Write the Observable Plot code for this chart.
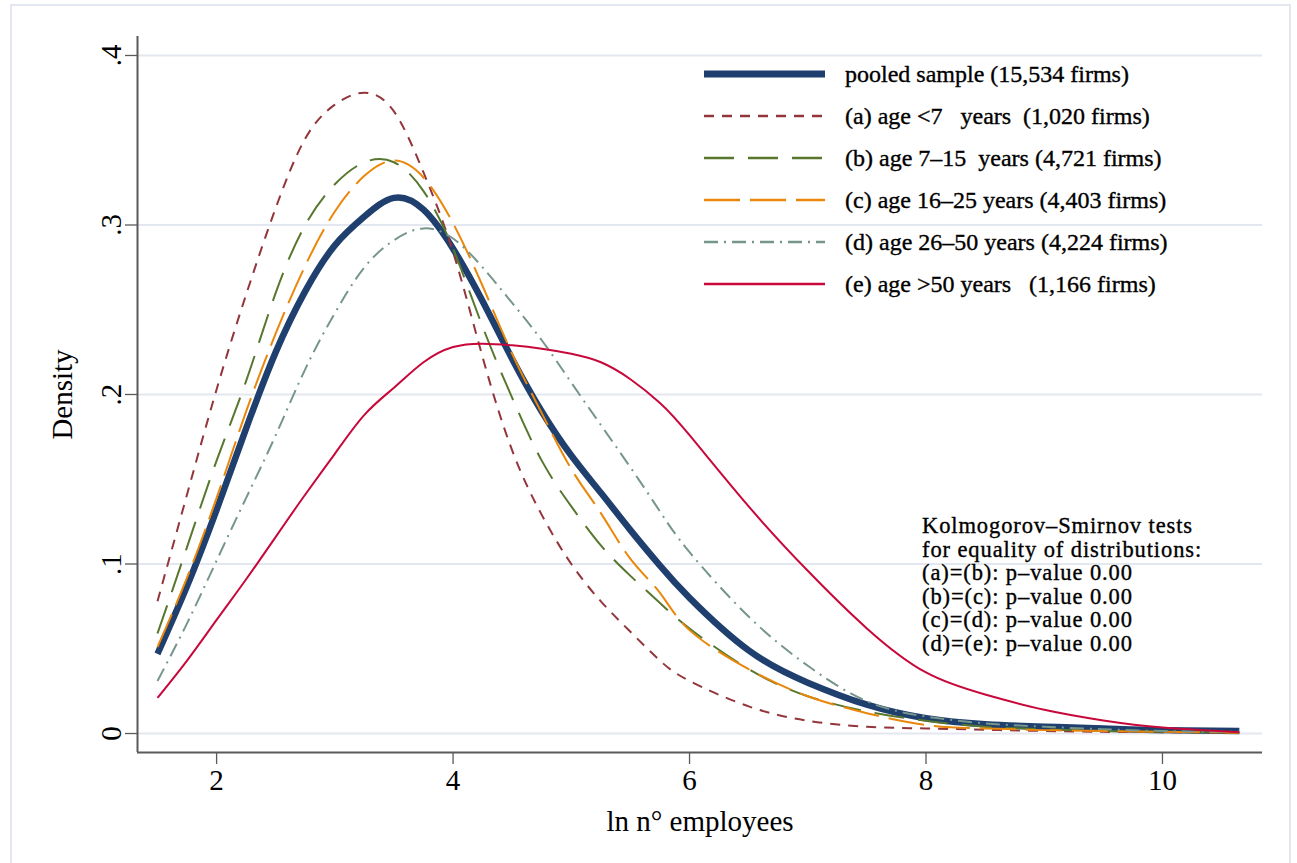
<!DOCTYPE html>
<html><head><meta charset="utf-8">
<script src="https://cdn.jsdelivr.net/npm/d3@7"></script>
<script src="https://cdn.jsdelivr.net/npm/@observablehq/plot@0.6"></script>
<style>
html,body{margin:0;padding:0;background:#fff;}
#wrap{position:relative;width:1297px;height:863px;overflow:hidden;background:#fff;}
#border{position:absolute;left:10px;top:4px;width:1281px;height:900px;border:2px solid #e3e7f0;box-sizing:border-box;}
#wrap svg{position:absolute;left:0;top:0;}
</style></head><body><div id="wrap"><div id="border"></div></div>
<script>
// ---- data ----
const xGrid  = [1.5,1.75,2,2.25,2.5,2.75,3,3.25,3.5,3.75,4,4.25,4.5,4.75,5,5.25,5.5,5.75,6,6.5,7,7.5,8,8.5,9,9.5,10,10.65];
const pooled = [.047,.087,.132,.180,.225,.261,.288,.305,.316,.309,.286,.255,.221,.190,.164,.142,.120,.099,.080,.049,.030,.017,.009,.0055,.004,.003,.002,.0015];
const ageA   = [.078,.141,.203,.259,.310,.351,.371,.378,.367,.331,.284,.222,.167,.129,.100,.078,.060,.043,.031,.016,.0075,.004,.003,.0022,.0015,.001,.0008,.0005];
const ageB   = [.059,.110,.161,.208,.260,.300,.324,.337,.337,.320,.286,.240,.198,.161,.134,.111,.093,.077,.062,.038,.022,.013,.0075,.004,.0025,.0015,.001,.0005];
const ageC   = [.051,.092,.139,.190,.236,.276,.308,.329,.338,.328,.301,.264,.224,.189,.156,.130,.103,.083,.061,.038,.022,.012,.005,.003,.002,.0015,.001,.0005];
const ageD   = [.031,.065,.102,.139,.176,.215,.248,.275,.291,.298,.292,.275,.254,.232,.207,.182,.157,.131,.107,.069,.040,.019,.010,.006,.004,.0025,.0015,.001];
const ageE   = [.021,.043,.067,.091,.116,.141,.165,.188,.204,.219,.228,.230,.229,.227,.224,.219,.209,.195,.176,.134,.096,.062,.036,.023,.014,.0077,.0035,.0008];

const seriesValues = [pooled, ageA, ageB, ageC, ageD, ageE];
const seriesNames = [
  "pooled sample (15,534 firms)",
  "(a) age <7   years  (1,020 firms)",
  "(b) age 7–15  years (4,721 firms)",
  "(c) age 16–25 years (4,403 firms)",
  "(d) age 26–50 years (4,224 firms)",
  "(e) age >50 years   (1,166 firms)"
];
const seriesColors = ["#1f3f6e", "#93363c", "#58772e", "#ea870a", "#76968b", "#c8083a"];
const seriesWidths = [6.5, 2, 2, 2, 2, 2];
const seriesDash   = [null, "10,8", "30,14", "36,10", "14,6,2,6", null];

const yTicks = [0, 0.1, 0.2, 0.3, 0.4];
const xTicks = [2, 4, 6, 8, 10];
const ksLines = [
  "Kolmogorov–Smirnov tests",
  "for equality of distributions:",
  "(a)=(b): p–value 0.00",
  "(b)=(c): p–value 0.00",
  "(c)=(d): p–value 0.00",
  "(d)=(e): p–value 0.00"
];

const xDomain = [1.331, 10.846];
const yDomain = [-0.0112, 0.4112];

// ---- build ----
const rows = seriesValues.map((vals) => vals.map((v, i) => ({x: xGrid[i], y: v})));
const fmtY = d => d === 0 ? "0" : d3.format(".1f")(d).replace(/^0/, "");
const font = "'Liberation Serif', 'Times New Roman', serif";

const lineMarks = rows.map((r, s) => Plot.line(r, {
  x: "x", y: "y", curve: "natural",
  stroke: seriesColors[s], strokeWidth: seriesWidths[s],
  strokeDasharray: seriesDash[s] || undefined,
  strokeLinejoin: "round", strokeLinecap: "butt"
}));

const plot = Plot.plot({
  width: 1297, height: 863,
  marginLeft: 137, marginRight: 35, marginTop: 36, marginBottom: 111,
  style: {fontFamily: font, fontSize: "29px", background: "transparent", color: "#000"},
  x: {domain: xDomain},
  y: {domain: yDomain},
  marks: [
    Plot.gridY(yTicks, {stroke: "#e3e7f0", strokeOpacity: 1, strokeWidth: 2}),
    Plot.ruleX([xDomain[0]], {stroke: "#5a5a5a", strokeWidth: 2}),
    Plot.ruleY([yDomain[0]], {stroke: "#5a5a5a", strokeWidth: 2}),
    Plot.axisX(xTicks, {tickSize: 12, tickPadding: 5, stroke: "#5a5a5a", strokeWidth: 1.3,
      tickFormat: d3.format("d"),
      fontSize: 29, label: "ln n° employees", labelAnchor: "center", labelArrow: "none", labelOffset: 78}),
    Plot.axisY(yTicks, {tickSize: 12, stroke: "#5a5a5a", strokeWidth: 1.3, tickFormat: () => "",
      fontSize: 29, label: "Density", labelAnchor: "center", labelArrow: "none", labelOffset: 86}),
    Plot.text(yTicks, {y: d => d, text: fmtY, frameAnchor: "left", dx: -17, rotate: -90,
      textAnchor: "middle", lineAnchor: "bottom", fontSize: 29, fill: "#000"}),
    ...lineMarks
  ]
});
const wrap = document.getElementById("wrap");
wrap.appendChild(plot);

// ---- legend & annotation overlay ----
const ov = d3.select(wrap).append("svg")
  .attr("width", 1297).attr("height", 863)
  .style("pointer-events", "none")
  .attr("font-family", font);

const leg = ov.append("g");
seriesNames.forEach((name, i) => {
  const cy = 74 + i * 42;
  const l = leg.append("line")
    .attr("x1", 704).attr("x2", 825).attr("y1", cy).attr("y2", cy)
    .attr("stroke", seriesColors[i]).attr("stroke-width", seriesWidths[i] + 0.5);
  if (seriesDash[i]) l.attr("stroke-dasharray", seriesDash[i]);
  leg.append("text")
    .attr("x", 845).attr("y", cy + 8)
    .attr("font-size", 24)
    .style("white-space", "pre")
    .attr("fill", "#000")
    .attr("stroke", "#000").attr("stroke-width", 0.35)
    .text(name);
});

const ks = ov.append("g");
ksLines.forEach((t, i) => {
  ks.append("text")
    .attr("x", 922).attr("y", 533 + i * 23.6)
    .attr("font-size", 22.5)
    .attr("letter-spacing", 0.9)
    .attr("fill", "#000")
    .attr("stroke", "#000").attr("stroke-width", 0.35)
    .text(t);
});
</script>
</body></html>
